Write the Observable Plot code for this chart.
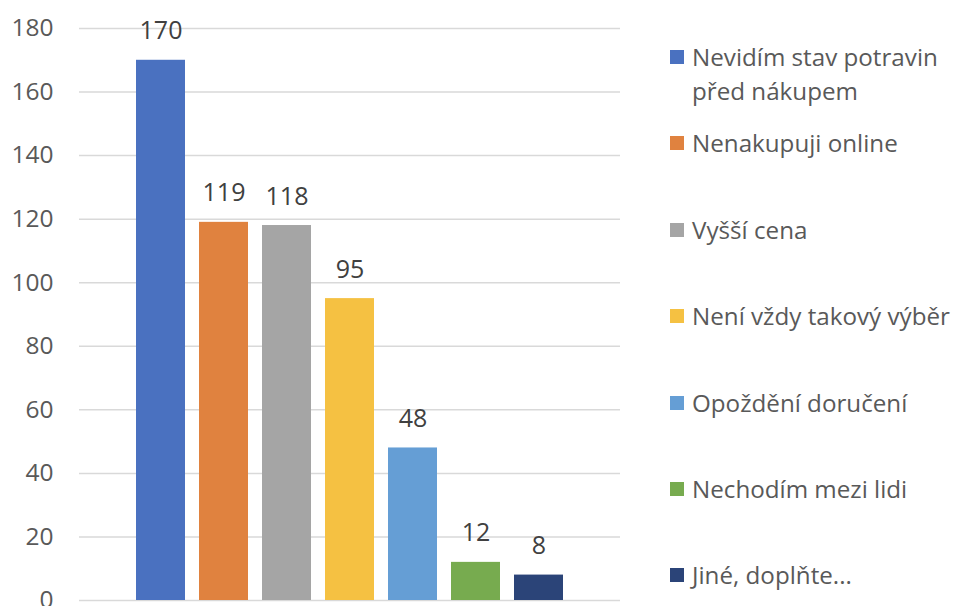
<!DOCTYPE html>
<html>
<head>
<meta charset="utf-8">
<script src="https://cdn.jsdelivr.net/npm/d3@7"></script>
<script src="https://cdn.jsdelivr.net/npm/@observablehq/plot@0.6"></script>
<style>
  html, body { margin: 0; padding: 0; background: #fff; }
  #wrap { position: relative; width: 956px; height: 606px; font-family: "Open Sans", sans-serif; }
  #legend { position: absolute; left: 670px; top: 40px; width: 286px; }
  .item { display: flex; align-items: flex-start; height: 86.4px; color: #595959; font-size: 24.2px; line-height: 34px; white-space: nowrap; }
  .sw { flex: 0 0 14px; width: 14px; height: 14px; margin-top: 10px; margin-right: 8px; }
</style>
</head>
<body>
<div id="wrap"><div id="chart"></div><div id="legend"></div></div>
<script>
const categories = ["Nevidím stav potravin před nákupem", "Nenakupuji online", "Vyšší cena", "Není vždy takový výběr", "Opoždění doručení", "Nechodím mezi lidi", "Jiné, doplňte..."];
const legendLines = [["Nevidím stav potravin", "před nákupem"], ["Nenakupuji online"], ["Vyšší cena"], ["Není vždy takový výběr"], ["Opoždění doručení"], ["Nechodím mezi lidi"], ["Jiné, doplňte..."]];
const values = [170, 119, 118, 95, 48, 12, 8];
const colors = ["#4A71C0", "#E0823F", "#A5A5A5", "#F5C142", "#659ED5", "#77AB4F", "#2B4478"];
const yTicks = [0, 20, 40, 60, 80, 100, 120, 140, 160, 180];

const data = categories.map((c, i) => ({category: c, value: values[i]}));

const chart = Plot.plot({
  width: 956,
  height: 606,
  marginLeft: 79,
  marginRight: 336,
  marginTop: 28,
  marginBottom: 6,
  style: {fontFamily: "Open Sans, sans-serif", background: "#fff"},
  x: {domain: categories, paddingInner: 0.23, paddingOuter: 0.88, axis: null},
  y: {domain: [0, 180], ticks: yTicks, tickSize: 0, tickPadding: 26, label: null, tickFormat: d => d},
  color: {domain: categories, range: colors},
  marks: [
    Plot.ruleY(yTicks, {stroke: "#d9d9d9", strokeWidth: 1.5}),
    Plot.barY(data, {x: "category", y: "value", fill: "category"}),
    Plot.text(data, {x: "category", y: "value", text: d => String(d.value), dy: -29, fill: "#404040", fontSize: 25})
  ]
});
const yax = chart.querySelector('g[aria-label="y-axis tick label"]');
if (yax) { yax.setAttribute("font-size", "24.5"); yax.setAttribute("fill", "#595959"); }
document.getElementById("chart").appendChild(chart);

const legend = document.getElementById("legend");
legendLines.forEach((lines, i) => {
  const item = document.createElement("div");
  item.className = "item";
  const sw = document.createElement("div");
  sw.className = "sw";
  sw.style.background = colors[i];
  const label = document.createElement("div");
  label.innerHTML = lines.join("<br>");
  item.appendChild(sw);
  item.appendChild(label);
  legend.appendChild(item);
});
</script>
</body>
</html>
